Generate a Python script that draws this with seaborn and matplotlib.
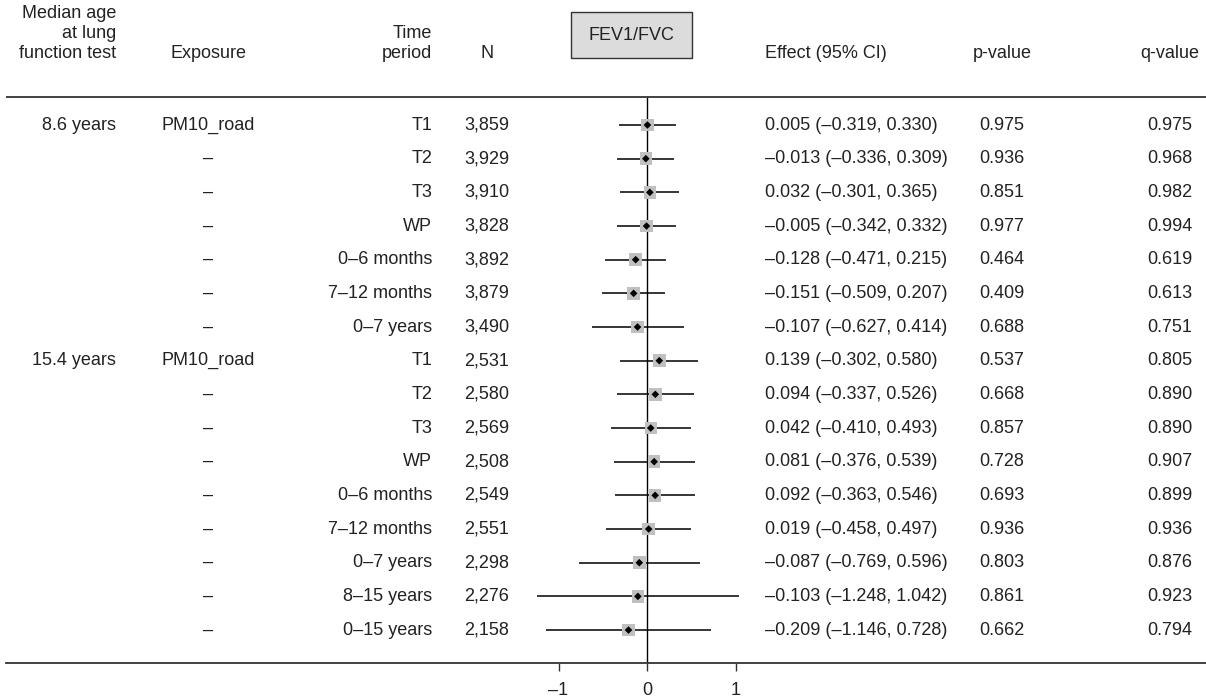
import numpy as np
import pandas as pd
import matplotlib
matplotlib.use("Agg")
import matplotlib.pyplot as plt
import matplotlib.transforms as mtransforms
from matplotlib.patches import Rectangle
import seaborn as sns

# Data (FEV1/FVC)
ages = ["8.6 years", "", "", "", "", "", "", "15.4 years", "", "", "", "", "", "", "", ""]
exposures = ["PM10_road", "–", "–", "–", "–", "–", "–",
             "PM10_road", "–", "–", "–", "–", "–", "–", "–", "–"]
periods = ["T1", "T2", "T3", "WP", "0–6 months", "7–12 months", "0–7 years",
           "T1", "T2", "T3", "WP", "0–6 months", "7–12 months", "0–7 years",
           "8–15 years", "0–15 years"]
n_obs = [3859, 3929, 3910, 3828, 3892, 3879, 3490,
         2531, 2580, 2569, 2508, 2549, 2551, 2298, 2276, 2158]
effect = [0.005, -0.013, 0.032, -0.005, -0.128, -0.151, -0.107,
          0.139, 0.094, 0.042, 0.081, 0.092, 0.019, -0.087, -0.103, -0.209]
ci_low = [-0.319, -0.336, -0.301, -0.342, -0.471, -0.509, -0.627,
          -0.302, -0.337, -0.410, -0.376, -0.363, -0.458, -0.769, -1.248, -1.146]
ci_high = [0.330, 0.309, 0.365, 0.332, 0.215, 0.207, 0.414,
           0.580, 0.526, 0.493, 0.539, 0.546, 0.497, 0.596, 1.042, 0.728]
p_values = [0.975, 0.936, 0.851, 0.977, 0.464, 0.409, 0.688,
            0.537, 0.668, 0.857, 0.728, 0.693, 0.936, 0.803, 0.861, 0.662]
q_values = [0.975, 0.968, 0.982, 0.994, 0.619, 0.613, 0.751,
            0.805, 0.890, 0.890, 0.907, 0.899, 0.936, 0.876, 0.923, 0.794]
x_ticks = [-1, 0, 1]

df = pd.DataFrame({"row": np.arange(len(effect)), "effect": effect,
                   "lo": ci_low, "hi": ci_high})

sns.set_style("white")
plt.rcParams['font.family'] = ['Liberation Sans', 'DejaVu Sans']
FS = 13
TXT = "#222222"

W, H = 1206, 699
fig = plt.figure(figsize=(W / 100, H / 100), dpi=100)

# forest axes spans the full width; 0 sits at x=647 px, 1 unit = 88.5 px
px0, unit = 647, 88.5
ax_left_px = 6
ax = fig.add_axes([ax_left_px / W, 36 / H, 1 - ax_left_px / W, 1 - 36 / H])
ax.set_xlim((ax_left_px - px0) / unit, (W - px0) / unit)
row_h = 33.67
top_row_px = 125
ax.set_ylim((663 - top_row_px) / row_h, (0 - top_row_px) / row_h)


def py(p):
    return (p - top_row_px) / row_h


# CI lines, grey squares, black diamonds
ax.hlines(df["row"], df["lo"], df["hi"], color="black", lw=1.1, zorder=2)
sns.scatterplot(data=df, x="effect", y="row", marker="s", s=80, color="#c0c0c0",
                edgecolor="none", ax=ax, zorder=3)
sns.scatterplot(data=df, x="effect", y="row", marker="D", s=15, color="black",
                edgecolor="none", ax=ax, zorder=4)

# zero line and header rule
ax.vlines(0, py(97), py(663), color="black", lw=1.0, zorder=1)
ax.axhline(py(97), color="#333333", lw=1.3)

for s in ["top", "right", "left"]:
    ax.spines[s].set_visible(False)
ax.spines["bottom"].set_color("#333333")
ax.spines["bottom"].set_linewidth(1.3)
ax.set_xticks(x_ticks)
ax.set_xticklabels(["–1", "0", "1"], fontsize=FS, color=TXT)
ax.tick_params(axis="x", bottom=True, direction="out", length=6, width=1.0,
               color="#333333", pad=8)
ax.set_yticks([])
ax.set_xlabel("")
ax.set_ylabel("")

# table text: x in figure fraction, y in data rows
tr = mtransforms.blended_transform_factory(fig.transFigure, ax.transData)


def col(px):
    return px / W


for i in range(len(effect)):
    ax.text(col(116), i, ages[i], transform=tr, ha="right", va="center", fontsize=FS, color=TXT)
    ax.text(col(208), i, exposures[i], transform=tr, ha="center", va="center", fontsize=FS, color=TXT)
    ax.text(col(432), i, periods[i], transform=tr, ha="right", va="center", fontsize=FS, color=TXT)
    ax.text(col(487), i, f"{n_obs[i]:,}", transform=tr, ha="center", va="center", fontsize=FS, color=TXT)
    eff = f"{effect[i]:.3f} ({ci_low[i]:.3f}, {ci_high[i]:.3f})".replace("-", "–")
    ax.text(col(765), i, eff, transform=tr, ha="left", va="center", fontsize=FS, color=TXT)
    ax.text(col(1002), i, f"{p_values[i]:.3f}", transform=tr, ha="center", va="center", fontsize=FS, color=TXT)
    ax.text(col(1170), i, f"{q_values[i]:.3f}", transform=tr, ha="center", va="center", fontsize=FS, color=TXT)

# column headers
headers = [
    ("Median age", 116, 14, "right"), ("at lung", 116, 33, "right"),
    ("function test", 116, 53, "right"),
    ("Exposure", 208, 53, "center"),
    ("Time", 432, 33, "right"), ("period", 432, 53, "right"),
    ("N", 487, 53, "center"),
    ("Effect (95% CI)", 765, 53, "left"),
    ("p-value", 1002, 53, "center"),
    ("q-value", 1170, 53, "center"),
]
for label, x, y, ha in headers:
    ax.text(col(x), py(y), label, transform=tr, ha=ha, va="center", fontsize=FS, color=TXT)

# FEV1/FVC box
bx0, bx1, by0, by1 = 571, 692, 12, 58
ax.add_patch(Rectangle(((bx0 - px0) / unit, py(by0)), (bx1 - bx0) / unit, py(by1) - py(by0),
                       facecolor="#dcdcdc", edgecolor="#333333", lw=1.0, clip_on=False, zorder=5))
ax.text(((bx0 + bx1) / 2 - px0) / unit, py(35), "FEV1/FVC",
        ha="center", va="center", fontsize=FS, color=TXT, zorder=6)

fig.savefig("out.png", dpi=100)
